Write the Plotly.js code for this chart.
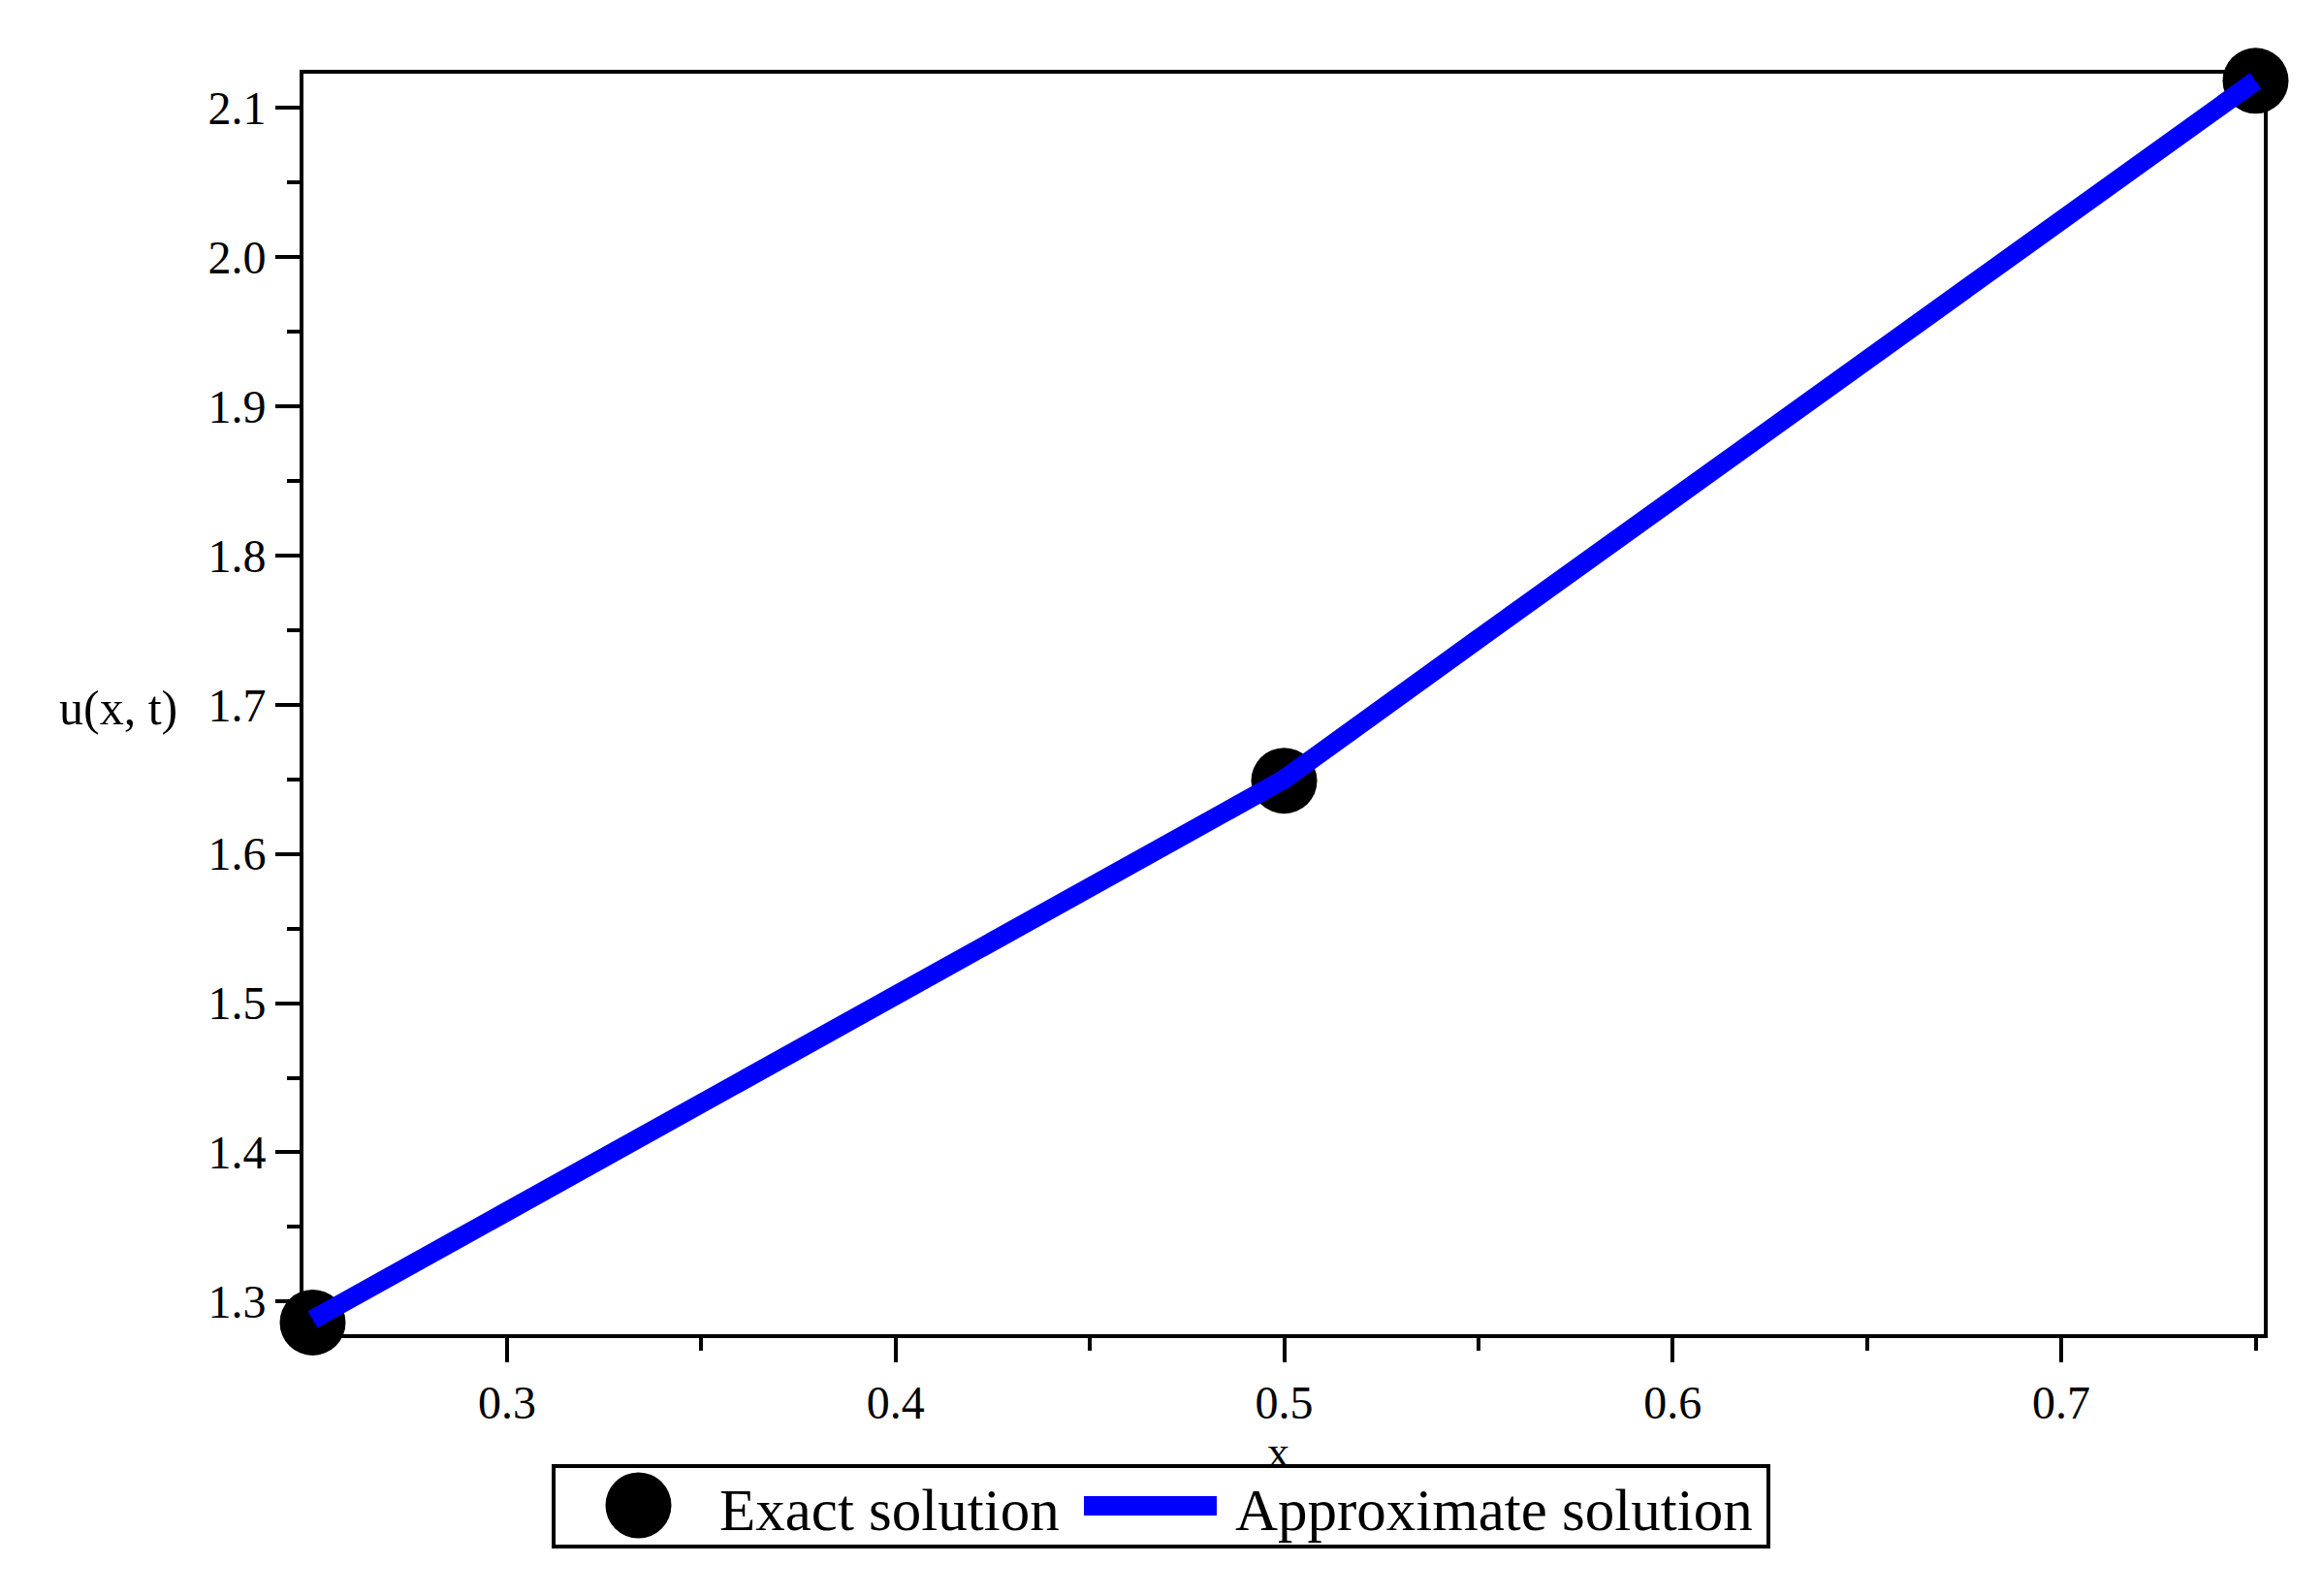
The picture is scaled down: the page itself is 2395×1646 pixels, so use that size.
<!DOCTYPE html>
<html>
<head>
<meta charset="utf-8">
<script src="https://cdn.plot.ly/plotly-3.0.1.min.js"></script>
<style>
html,body{margin:0;padding:0;background:#fff;}
#chart{width:2395px;height:1646px;}
</style>
</head>
<body>
<div id="chart"></div>
<script>
// ---- data ----
var exactName = "Exact solution";
var exactX = [0.25, 0.5, 0.75];
var exactY = [1.286, 1.649, 2.118];

var approxName = "Approximate solution";
var approxX = [0.25, 0.30, 0.35, 0.40, 0.45, 0.50, 0.55, 0.60, 0.65, 0.70, 0.75];
var approxY = [1.288, 1.361, 1.434, 1.507, 1.579, 1.650, 1.744, 1.838, 1.931, 2.025, 2.118];

var xTitle = "x";
var yTitle = "u(x, t)";

// ---- layout helpers (pixel -> paper) ----
var W = 2395, H = 1646;
var mL = 313, mR = 60, mT = 76, mB = 270;
var pw = W - mL - mR, ph = H - mT - mB;
function px(x){ return (x - mL) / pw; }
function py(y){ return (H - mB - y) / ph; }

var serif = "Liberation Serif, Times New Roman, serif";

var traces = [
  {
    x: exactX, y: exactY, name: exactName, type: "scatter", mode: "markers",
    marker: {color: "#000000", size: 68, line: {width: 0}},
    cliponaxis: false, showlegend: false
  },
  {
    x: approxX, y: approxY, name: approxName, type: "scatter", mode: "lines",
    line: {color: "#0000FF", width: 20},
    cliponaxis: false, showlegend: false
  }
];

var axisCommon = {
  showline: true, linecolor: "#000", linewidth: 4, mirror: true,
  ticks: "outside", ticklen: 25, tickwidth: 4, tickcolor: "#000",
  showgrid: false, zeroline: false,
  tickfont: {family: serif, size: 48, color: "#000"},
  tickformat: ".1f"
};

var layout = {
  width: W, height: H,
  margin: {l: mL, r: mR, t: mT, b: mB, pad: 0},
  paper_bgcolor: "#fff", plot_bgcolor: "#fff",
  showlegend: false,
  xaxis: Object.assign({}, axisCommon, {
    range: [0.24763, 0.75212],
    tick0: 0.3, dtick: 0.1,
    minor: {dtick: 0.05, tick0: 0.25, ticks: "outside", ticklen: 13, tickwidth: 4, tickcolor: "#000", showgrid: false}
  }),
  yaxis: Object.assign({}, axisCommon, {
    range: [1.27818, 2.12274],
    tick0: 1.3, dtick: 0.1,
    minor: {dtick: 0.05, tick0: 1.3, ticks: "outside", ticklen: 13, tickwidth: 4, tickcolor: "#000", showgrid: false}
  }),
  annotations: [
    {xref: "paper", yref: "paper", x: px(1318), y: py(1497), xanchor: "center", yanchor: "middle",
     text: xTitle, showarrow: false, borderpad: 0, font: {family: serif, size: 46, color: "#000"}},
    {xref: "paper", yref: "paper", x: px(185), y: py(730), xanchor: "right", yanchor: "middle",
     text: yTitle, showarrow: false, font: {family: serif, size: 50, color: "#000"}},
    {xref: "paper", yref: "paper", x: px(740), y: py(1557), xanchor: "left", yanchor: "middle",
     text: exactName, showarrow: false, font: {family: serif, size: 61, color: "#000"}},
    {xref: "paper", yref: "paper", x: px(1272), y: py(1557), xanchor: "left", yanchor: "middle",
     text: approxName, showarrow: false, font: {family: serif, size: 61, color: "#000"}}
  ],
  shapes: [
    {type: "rect", xref: "paper", yref: "paper", x0: px(571), x1: px(1824), y0: py(1512), y1: py(1595),
     line: {color: "#000", width: 4}, fillcolor: "rgba(0,0,0,0)"},
    {type: "circle", xref: "paper", yref: "paper", x0: px(624.5), x1: px(692.5), y0: py(1518.5), y1: py(1586.5),
     line: {width: 0}, fillcolor: "#000"},
    {type: "line", xref: "paper", yref: "paper", x0: px(1118), x1: px(1255), y0: py(1553), y1: py(1553),
     line: {color: "#0000FF", width: 20}}
  ]
};

Plotly.newPlot("chart", traces, layout, {displayModeBar: false, staticPlot: true});
</script>
</body>
</html>
